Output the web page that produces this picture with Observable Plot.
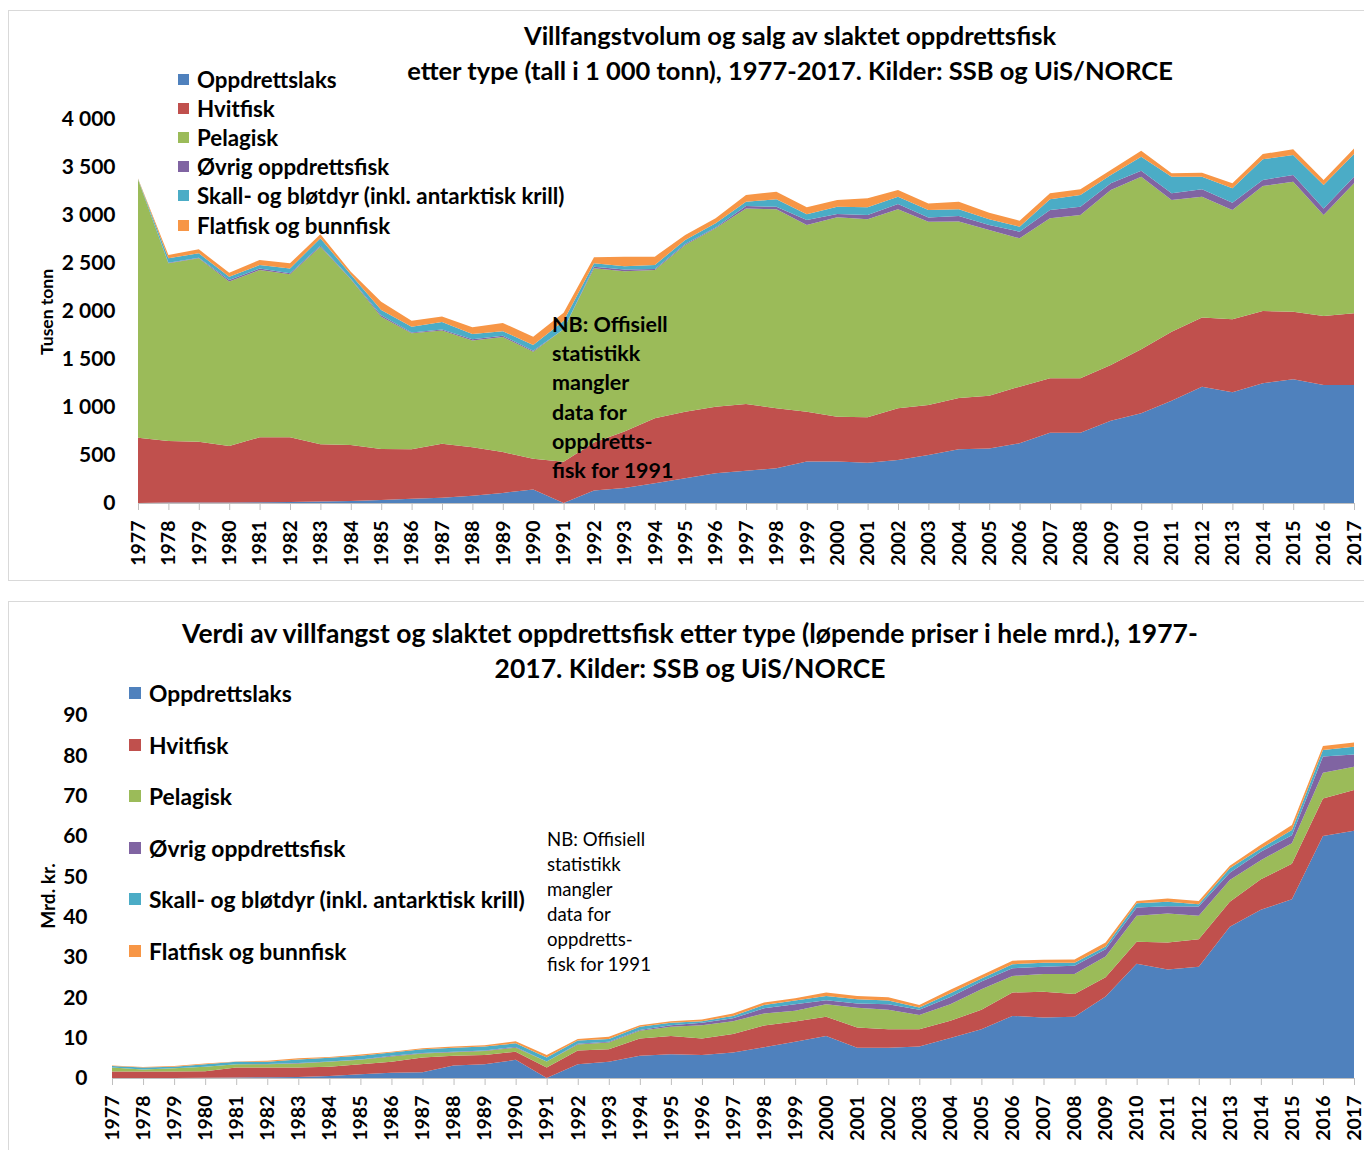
<!DOCTYPE html>
<html>
<head>
<meta charset="utf-8">
<script src="https://cdn.jsdelivr.net/npm/d3@7"></script>
<script src="https://cdn.jsdelivr.net/npm/@observablehq/plot@0.6"></script>
<style>
  html, body { margin: 0; padding: 0; background: #fff; }
  #page { position: relative; width: 1364px; height: 1150px; overflow: hidden; font-family: Lato, "Open Sans", sans-serif; color: #000; }
  .panel { position: absolute; border: 1px solid #d9d9d9; box-sizing: border-box; }
  .abs { position: absolute; white-space: nowrap; }
  .title { font-weight: bold; text-align: center; line-height: 35px; }
  .leg { position: absolute; font-weight: bold; white-space: nowrap; display: flex; align-items: center; }
  .leg span.sw { display: inline-block; margin-right: 8px; }
  .plot { position: absolute; left: 0; }
  .plot svg text { font-weight: bold; }
</style>
</head>
<body>
<div id="page">
  <div class="panel" style="left:8px; top:10px; width:1380px; height:571px;"></div>
  <div class="panel" style="left:8px; top:601px; width:1380px; height:560px;"></div>
  <div id="plot1" class="plot" style="top:100px;"></div>
  <div id="plot2" class="plot" style="top:700px;"></div>
</div>
<script>
// ---------- Data ----------
const seriesNames = ["Oppdrettslaks", "Hvitfisk", "Pelagisk", "Øvrig oppdrettsfisk", "Skall- og bløtdyr (inkl. antarktisk krill)", "Flatfisk og bunnfisk"];
const seriesColors = ["#4F81BD", "#C0504D", "#9BBB59", "#8064A2", "#4BACC6", "#F79646"];

const years = [1977, 1978, 1979, 1980, 1981, 1982, 1983, 1984, 1985, 1986, 1987, 1988, 1989, 1990,
  1991, 1992, 1993, 1994, 1995, 1996, 1997, 1998, 1999, 2000, 2001, 2002, 2003, 2004,
  2005, 2006, 2007, 2008, 2009, 2010, 2011, 2012, 2013, 2014, 2015, 2016, 2017];

// Volume, 1 000 tonn
const volLaks   = [0, 4, 5, 5, 7, 10, 15, 20, 30, 45, 55, 75, 105, 140, 0, 130, 155, 205, 257, 309, 337, 361, 431, 431, 420, 448, 500, 559, 569, 622, 733, 733, 858, 934, 1066, 1212, 1153, 1247, 1288, 1229, 1229];
const volHvit   = [680, 642, 634, 589, 677, 674, 596, 584, 533, 514, 563, 505, 425, 320, 430, 500, 590, 677, 694, 694, 694, 625, 520, 468, 472, 538, 521, 535, 549, 590, 566, 566, 580, 667, 719, 719, 760, 753, 705, 719, 747];
const volPel    = [2690, 1851, 1910, 1712, 1743, 1698, 2059, 1726, 1378, 1208, 1180, 1112, 1200, 1115, 1380, 1815, 1670, 1545, 1737, 1858, 2038, 2073, 1945, 2077, 2063, 2073, 1909, 1837, 1726, 1545, 1666, 1701, 1822, 1798, 1371, 1260, 1139, 1302, 1354, 1052, 1354];
const volOvrig  = [0, 5, 5, 17, 15, 10, 10, 5, 15, 10, 10, 15, 12, 10, 0, 17, 17, 10, 10, 10, 24, 28, 52, 34, 45, 56, 45, 59, 52, 69, 87, 87, 70, 63, 70, 76, 76, 63, 70, 69, 69];
const volSkall  = [5, 47, 47, 35, 37, 52, 77, 45, 54, 60, 77, 54, 47, 60, 85, 35, 35, 42, 42, 42, 46, 76, 59, 77, 80, 76, 77, 69, 59, 52, 111, 121, 87, 146, 173, 132, 150, 215, 208, 243, 236];
const volFlat   = [5, 34, 41, 41, 52, 53, 42, 30, 87, 62, 59, 69, 87, 88, 87, 63, 97, 87, 52, 52, 69, 80, 73, 69, 94, 69, 69, 80, 69, 63, 63, 59, 52, 62, 35, 42, 52, 55, 59, 53, 59];

// Value, mrd. kr (løpende priser)
const valLaks   = [0, 0, 0, 0.05, 0.1, 0.2, 0.25, 0.5, 0.9, 1.3, 1.4, 3.1, 3.4, 4.5, 0, 3.4, 4.0, 5.5, 5.9, 5.7, 6.3, 7.6, 9.0, 10.4, 7.5, 7.5, 7.8, 9.9, 12.1, 15.4, 15.0, 15.2, 20.2, 28.3, 26.9, 27.6, 37.5, 41.7, 44.3, 60.0, 61.3];
const valHvit   = [1.6, 1.6, 1.6, 1.65, 2.5, 2.4, 2.35, 2.3, 2.5, 2.7, 3.7, 2.4, 2.3, 2.0, 2.6, 3.4, 3.1, 4.3, 4.5, 4.1, 4.6, 5.4, 5.0, 4.8, 5.0, 4.6, 4.3, 4.3, 4.8, 5.8, 6.4, 5.6, 4.8, 5.5, 6.7, 6.8, 6.2, 7.6, 8.8, 9.3, 10.1];
const valPel    = [1.0, 0.5, 0.8, 1.1, 0.8, 0.8, 1.0, 1.2, 1.1, 1.3, 1.0, 0.9, 1.0, 1.0, 1.5, 1.5, 1.7, 1.9, 2.3, 3.3, 3.2, 3.0, 2.7, 3.1, 4.9, 4.8, 3.5, 4.1, 5.1, 4.1, 4.4, 5.0, 5.1, 6.4, 7.2, 5.8, 5.4, 4.7, 5.1, 6.4, 5.8];
const valOvrig  = [0, 0, 0, 0, 0, 0.1, 0.1, 0.1, 0.1, 0.2, 0.1, 0.1, 0.1, 0.2, 0, 0.2, 0.2, 0.2, 0.4, 0.6, 0.7, 1.3, 1.6, 1.0, 1.1, 1.4, 1.3, 1.8, 1.9, 1.9, 1.8, 2.0, 1.8, 2.1, 1.8, 2.3, 1.8, 2.1, 2.0, 4.0, 3.0];
const valSkall  = [0.4, 0.5, 0.4, 0.6, 0.6, 0.5, 0.9, 0.9, 0.9, 0.8, 0.9, 1.0, 1.0, 0.9, 1.0, 0.8, 0.7, 0.8, 0.6, 0.4, 0.6, 0.8, 0.9, 1.0, 1.0, 0.9, 0.6, 0.9, 0.8, 1.0, 1.0, 0.8, 0.7, 1.0, 1.1, 0.6, 1.1, 0.8, 1.3, 1.6, 1.9];
const valFlat   = [0.1, 0.1, 0.2, 0.2, 0.1, 0.3, 0.3, 0.2, 0.3, 0.2, 0.3, 0.3, 0.3, 0.5, 0.6, 0.4, 0.5, 0.4, 0.4, 0.4, 0.6, 0.6, 0.6, 0.9, 0.8, 0.8, 0.6, 0.9, 0.8, 0.9, 0.7, 0.8, 1.0, 0.6, 0.8, 0.8, 0.6, 0.9, 1.2, 1.0, 1.1];

const yTicksTop = [0, 500, 1000, 1500, 2000, 2500, 3000, 3500, 4000];
const yTicksBottom = [0, 10, 20, 30, 40, 50, 60, 70, 80, 90];

const titleTop = ["Villfangstvolum og salg av slaktet oppdrettsfisk", "etter type (tall i 1 000 tonn), 1977-2017. Kilder: SSB og UiS/NORCE"];
const titleBottom = ["Verdi av villfangst og slaktet oppdrettsfisk etter type (løpende priser i hele mrd.), 1977-", "2017. Kilder: SSB og UiS/NORCE"];
const noteLines = ["NB: Offisiell", "statistikk", "mangler", "data for", "oppdretts-", "fisk for 1991"];

// ---------- Build tables ----------
function toLong(arrays) {
  const out = [];
  years.forEach((yr, i) => {
    arrays.forEach((arr, s) => out.push({year: yr, series: seriesNames[s], value: arr[i]}));
  });
  return out;
}
const volData = toLong([volLaks, volHvit, volPel, volOvrig, volSkall, volFlat]);
const valData = toLong([valLaks, valHvit, valPel, valOvrig, valSkall, valFlat]);

const fmtThousands = d => d >= 1000 ? `${Math.floor(d / 1000)} ${String(d % 1000).padStart(3, "0")}` : String(d);

function makePlot(data, opts) {
  return Plot.plot({
    width: 1364,
    height: opts.height,
    marginLeft: opts.marginLeft,
    marginRight: 10,
    marginTop: opts.marginTop,
    marginBottom: opts.marginBottom,
    style: {fontFamily: "Lato, sans-serif", background: "transparent", overflow: "visible"},
    x: {domain: [1977, 2017]},
    y: {domain: opts.yDomain},
    color: {domain: seriesNames, range: seriesColors},
    marks: [
      Plot.areaY(data, {x: "year", y: "value", fill: "series", curve: "linear"}),
      Plot.ruleY([0], {stroke: "#bfbfbf", strokeWidth: 1.2}),
      Plot.axisY({ticks: opts.yTicks, tickFormat: opts.yFormat, tickSize: 0, tickPadding: opts.yPad, fontSize: 21, fontWeight: "bold", label: null, fill: "#000"}),
      Plot.axisX({ticks: years, tickFormat: d => String(d), tickRotate: -90, tickSize: 7, tickPadding: 10, fontSize: 19.5, fontWeight: "bold", label: null, stroke: "#bfbfbf", fill: "#000"})
    ]
  });
}

document.getElementById("plot1").appendChild(makePlot(volData, {
  height: 480, marginLeft: 138, marginTop: 19, marginBottom: 77,
  yDomain: [0, 4000], yTicks: yTicksTop, yFormat: fmtThousands, yPad: 23
}));
document.getElementById("plot2").appendChild(makePlot(valData, {
  height: 450, marginLeft: 112, marginTop: 15, marginBottom: 72,
  yDomain: [0, 90], yTicks: yTicksBottom, yFormat: d => String(d), yPad: 25
}));

// ---------- Text: titles, legends, notes, axis labels ----------
const page = document.getElementById("page");
function addDiv(html, style, cls) {
  const d = document.createElement("div");
  d.className = cls || "abs";
  d.setAttribute("style", style);
  d.innerHTML = html;
  page.appendChild(d);
  return d;
}
addDiv(titleTop.join("<br>"), "left:290px; width:1000px; top:18px; font-size:25.5px;", "abs title");
addDiv(titleBottom.join("<br>"), "left:40px; width:1300px; top:616px; font-size:26.5px;", "abs title");

seriesNames.forEach((name, i) => {
  addDiv(`<span class="sw" style="width:11px;height:11px;background:${seriesColors[i]}"></span>${name}`,
    `left:178px; top:${79 + i * 29.2 - 13}px; height:26px; font-size:22.3px;`, "leg");
  addDiv(`<span class="sw" style="width:12px;height:12px;background:${seriesColors[i]}"></span>${name}`,
    `left:129px; top:${693 + i * 51.6 - 13}px; height:26px; font-size:22.8px;`, "leg");
});

addDiv(noteLines.join("<br>"), "left:552px; top:310px; font-size:21.5px; font-weight:bold; line-height:29.2px;");
addDiv(noteLines.join("<br>"), "left:547px; top:827px; font-size:18.6px; font-weight:normal; line-height:25px;");

addDiv("Tusen tonn", "left:46px; top:312px; font-size:17.5px; font-weight:bold; transform:translate(-50%,-50%) rotate(-90deg);");
addDiv("Mrd. kr.", "left:47px; top:896px; font-size:19px; font-weight:bold; transform:translate(-50%,-50%) rotate(-90deg);");
</script>
</body>
</html>
